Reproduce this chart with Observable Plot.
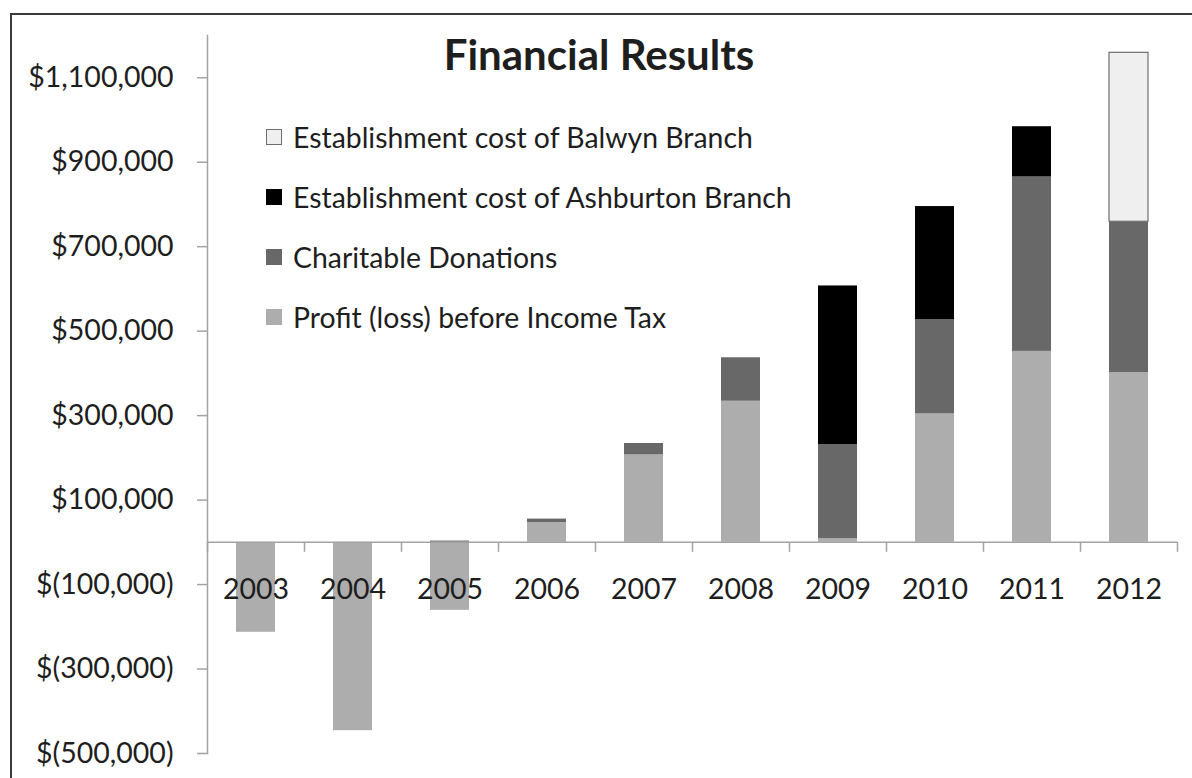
<!DOCTYPE html>
<html>
<head>
<meta charset="utf-8">
<script src="https://cdn.jsdelivr.net/npm/d3@7"></script>
<script src="https://cdn.jsdelivr.net/npm/@observablehq/plot@0.6"></script>
<style>
  html, body { margin: 0; padding: 0; background: #fff; }
  #wrap { position: relative; width: 1192px; height: 778px; overflow: hidden; font-family: Lato, "Open Sans", sans-serif; color: #1e1e1e; }
  #frame { position: absolute; left: 10px; top: 13px; width: 1200px; height: 800px; border-left: 2px solid #3a3a3a; border-top: 2px solid #3a3a3a; }
  #title { position: absolute; left: 299px; width: 600px; top: 28px; text-align: center; font-weight: bold; font-size: 42px; line-height: 52px; }
  #legend { position: absolute; left: 266px; top: 107px; }
  .row { display: flex; align-items: center; height: 60px; font-size: 28.4px; line-height: 34px; }
  .sw { width: 16px; height: 16px; box-sizing: border-box; margin-right: 11px; }
  #chart { position: absolute; left: 0; top: 0; }
</style>
</head>
<body>
<div id="wrap">
  <div id="chart"></div>
  <div id="frame"></div>
  <div id="title">Financial Results</div>
  <div id="legend"></div>
</div>
<script>
// ---- data ----
const years = ["2003", "2004", "2005", "2006", "2007", "2008", "2009", "2010", "2011", "2012"];
const profit = [-213000, -446000, -161000, 47000, 207000, 334000, 9000, 304000, 452000, 402000];
const donations = [0, 0, 3000, 8000, 27000, 103000, 222000, 223000, 413000, 357000];
const ashburton = [0, 0, 0, 0, 0, 0, 376000, 268000, 119000, 0];
const balwyn = [0, 0, 0, 0, 0, 0, 0, 0, 0, 400000];
const seriesNames = [
  "Profit (loss) before Income Tax",
  "Charitable Donations",
  "Establishment cost of Ashburton Branch",
  "Establishment cost of Balwyn Branch"
];
const seriesColors = ["#adadad", "#686868", "#000000", "#efefef"];
const yTicks = [-500000, -300000, -100000, 100000, 300000, 500000, 700000, 900000, 1100000];

// ---- tidy table ----
const seriesValues = [profit, donations, ashburton, balwyn];
const rows = [];
seriesNames.forEach((s, si) => {
  years.forEach((yr, i) => rows.push({year: yr, series: s, value: seriesValues[si][i]}));
});

const W = 1192, H = 778;
const mL = 207, mR = 15, mT = 35, mB = 25;
const yDomain = [-500000, 1200000];
const step = (W - mL - mR) / years.length;
const tickLen = (yDomain[1] - yDomain[0]) / (H - mT - mB) * 10;

const fmt = v => v < 0 ? "$(" + d3.format(",")(-v) + ")" : "$" + d3.format(",")(v);
const axisGray = "#a3a3a3";

const chart = Plot.plot({
  width: W,
  height: H,
  marginLeft: mL,
  marginRight: mR,
  marginTop: mT,
  marginBottom: mB,
  style: {fontFamily: "Lato, 'Open Sans', sans-serif", fontSize: "28.5px", background: "transparent", color: "#1e1e1e"},
  x: {domain: years, paddingInner: 0.6, paddingOuter: 0.3, axis: null},
  y: {domain: yDomain, axis: null},
  color: {domain: seriesNames, range: seriesColors},
  marks: [
    Plot.barY(rows, {
      x: "year", y: "value", fill: "series",
      order: seriesNames,
      stroke: d => d.series === seriesNames[3] ? "#6e6e6e" : "none",
      strokeWidth: 1.2
    }),
    Plot.frame({anchor: "left", stroke: axisGray, strokeWidth: 1.5}),
    Plot.ruleY([0], {stroke: axisGray, strokeWidth: 1.5}),
    Plot.ruleX(years, {x: d => d, y1: 0, y2: -tickLen, dx: -step / 2, stroke: axisGray, strokeWidth: 1.5}),
    Plot.ruleX(years.slice(-1), {x: d => d, y1: 0, y2: -tickLen, dx: step / 2, stroke: axisGray, strokeWidth: 1.5}),
    Plot.axisY({ticks: yTicks, tickFormat: fmt, tickSize: 10, tickPadding: 24, label: null, stroke: axisGray, fill: "#1e1e1e", strokeWidth: 1.5, fontSize: 28.5}),
    Plot.text(years, {x: d => d, y: () => 0, dy: 48, text: d => d, fill: "#1e1e1e", fontSize: 28.5})
  ]
});
document.getElementById("chart").appendChild(chart);

// ---- legend (top to bottom: reverse stack order) ----
const legend = document.getElementById("legend");
for (let i = seriesNames.length - 1; i >= 0; i--) {
  const row = document.createElement("div");
  row.className = "row";
  const sw = document.createElement("span");
  sw.className = "sw";
  sw.style.background = seriesColors[i];
  if (i === 3) sw.style.border = "1.5px solid #6e6e6e";
  const t = document.createElement("span");
  t.textContent = seriesNames[i];
  row.appendChild(sw);
  row.appendChild(t);
  legend.appendChild(row);
}
</script>
</body>
</html>
